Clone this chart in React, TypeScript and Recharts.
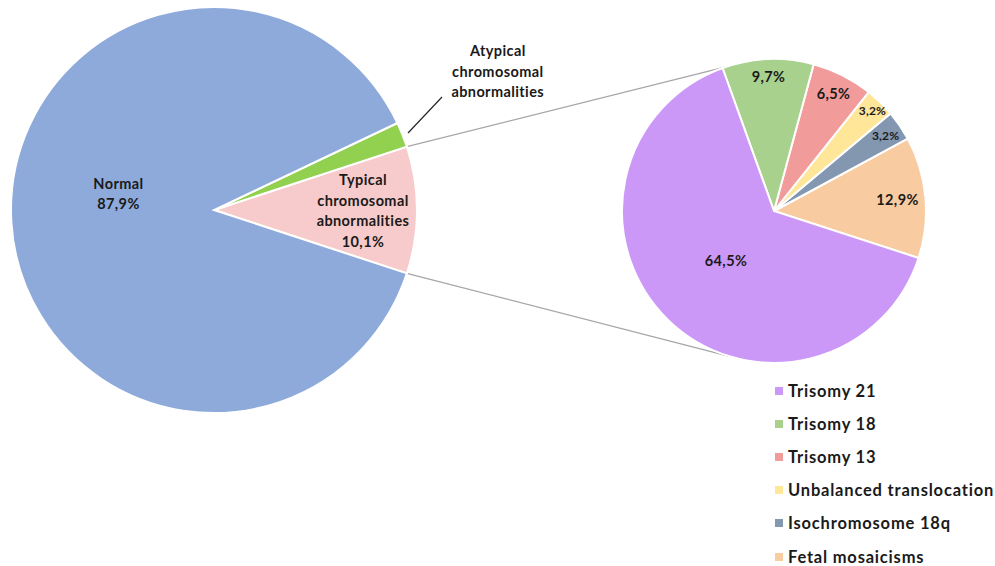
import { PieChart, Pie, Cell, Customized } from "recharts";

// overall split of all cases
const overviewNames = [
  "Typical chromosomal abnormalities",
  "Atypical chromosomal abnormalities",
  "Normal",
];
const overviewValues = [10.1, 2.0, 87.9];
const overviewColors = ["#f7cbcb", "#92d050", "#8eaadb"];

// breakdown of the typical abnormalities
const detailNames = [
  "Fetal mosaicisms",
  "Isochromosome 18q",
  "Unbalanced translocation",
  "Trisomy 13",
  "Trisomy 18",
  "Trisomy 21",
];
const detailValues = [12.9, 3.2, 3.2, 6.5, 9.7, 64.5];
const detailColors = ["#f8cba0", "#8497b0", "#ffe699", "#f29b9b", "#a9d18e", "#cc98f8"];

// legend is listed in reverse of the drawing order
const legendOrder = [5, 4, 3, 2, 1, 0];

const FONT = "Lato, 'Open Sans', sans-serif";
const RAD = Math.PI / 180;

const LEFT = { cx: 214, cy: 210, r: 203 };
const RIGHT = { cx: 774, cy: 211, r: 152 };

const overviewData = overviewNames.map((name, i) => ({ name, value: overviewValues[i] }));
const detailData = detailNames.map((name, i) => ({ name, value: detailValues[i] }));

const fmt = (v: number) => v.toFixed(1).replace(".", ",");

// label placement (distance from centre, optional fixed angle)
const overviewLabelAt: Record<string, { dist: number; angle?: number; lines: (v: number) => string[] }> = {
  Normal: { dist: 97, angle: 170, lines: (v) => ["Normal", fmt(v) + "%"] },
  "Typical chromosomal abnormalities": {
    dist: 149,
    lines: (v) => ["Typical", "chromosomal", "abnormalities", fmt(v) + "%"],
  },
  "Atypical chromosomal abnormalities": {
    dist: 316,
    angle: 26.1,
    lines: () => ["Atypical", "chromosomal", "abnormalities"],
  },
};

const detailLabelDist: Record<string, number> = {
  "Fetal mosaicisms": 124,
  "Isochromosome 18q": 135,
  "Unbalanced translocation": 141,
  "Trisomy 13": 132,
  "Trisomy 18": 135,
  "Trisomy 21": 69,
};

const polar = (cx: number, cy: number, r: number, deg: number) => ({
  x: cx + r * Math.cos(-deg * RAD),
  y: cy + r * Math.sin(-deg * RAD),
});

const OverviewLabel = (props: any) => {
  const { cx, cy, midAngle, name, value } = props;
  const cfg = overviewLabelAt[name];
  const p = polar(cx, cy, cfg.dist, cfg.angle ?? midAngle);
  const lines = cfg.lines(value);
  const lh = 20.5;
  const y0 = p.y - ((lines.length - 1) * lh) / 2;
  return (
    <text
      x={p.x}
      y={y0}
      textAnchor="middle"
      dominantBaseline="central"
      fontFamily={FONT}
      fontWeight={700}
      fontSize={14.5}
      letterSpacing={0.4}
      fill="#1a1a1a"
    >
      {lines.map((l, i) => (
        <tspan key={i} x={p.x} y={y0 + i * lh}>
          {l}
        </tspan>
      ))}
    </text>
  );
};

const DetailLabel = (props: any) => {
  const { cx, cy, midAngle, name, value } = props;
  const p = polar(cx, cy, detailLabelDist[name], midAngle);
  return (
    <text
      x={p.x}
      y={p.y}
      textAnchor="middle"
      dominantBaseline="central"
      fontFamily={FONT}
      fontWeight={700}
      fontSize={value < 5 ? 12 : 14.5}
      letterSpacing={value < 5 ? 0.2 : 0.4}
      fill="#1a1a1a"
    >
      {fmt(value) + "%"}
    </text>
  );
};

// start both pies so the typical slice / detail pie sit on the horizontal
const leftStart = -(overviewValues[0] * 3.6) / 2;
const rightStart = -18;

const Connectors = () => {
  const halfTypical = (overviewValues[0] * 3.6) / 2;
  const a1 = polar(LEFT.cx, LEFT.cy, LEFT.r, halfTypical);
  const a2 = polar(LEFT.cx, LEFT.cy, LEFT.r, -halfTypical);
  const b1 = polar(RIGHT.cx, RIGHT.cy, RIGHT.r, 108.5);
  const b2 = polar(RIGHT.cx, RIGHT.cy, RIGHT.r, -104);
  return (
    <g>
      <line x1={a1.x} y1={a1.y} x2={b1.x} y2={b1.y} stroke="#a6a6a6" strokeWidth={1.3} />
      <line x1={a2.x} y1={a2.y} x2={b2.x} y2={b2.y} stroke="#a6a6a6" strokeWidth={1.3} />
      <line x1={408} y1={133} x2={442} y2={97} stroke="#262626" strokeWidth={1.2} />
    </g>
  );
};

const App = () => {
  return (
    <div style={{ position: "absolute", left: 0, top: 0, width: 995, height: 566, background: "#fff" }}>
      <PieChart width={995} height={566} margin={{ top: 0, right: 0, bottom: 0, left: 0 }}>
        <Customized component={<Connectors />} />
        <Pie
          data={overviewData}
          dataKey="value"
          nameKey="name"
          cx={LEFT.cx}
          cy={LEFT.cy}
          outerRadius={LEFT.r}
          startAngle={leftStart}
          endAngle={leftStart + 360}
          stroke="#ffffff"
          strokeWidth={2}
          label={OverviewLabel}
          labelLine={false}
          isAnimationActive={false}
        >
          {overviewData.map((d, i) => (
            <Cell key={d.name} fill={overviewColors[i]} />
          ))}
        </Pie>
        <Pie
          data={detailData}
          dataKey="value"
          nameKey="name"
          cx={RIGHT.cx}
          cy={RIGHT.cy}
          outerRadius={RIGHT.r}
          startAngle={rightStart}
          endAngle={rightStart + 360}
          stroke="#ffffff"
          strokeWidth={2}
          label={DetailLabel}
          labelLine={false}
          isAnimationActive={false}
        >
          {detailData.map((d, i) => (
            <Cell key={d.name} fill={detailColors[i]} />
          ))}
        </Pie>
      </PieChart>
      <div
        style={{
          position: "absolute",
          left: 775,
          top: 374,
          fontFamily: FONT,
          fontWeight: 700,
          fontSize: 16.5,
          letterSpacing: 0.8,
          color: "#1a1a1a",
        }}
      >
        {legendOrder.map((i) => (
          <div key={detailNames[i]} style={{ display: "flex", alignItems: "center", height: 33.2, whiteSpace: "nowrap" }}>
            <span style={{ display: "inline-block", width: 8, height: 8, background: detailColors[i], marginRight: 5 }} />
            {detailNames[i]}
          </div>
        ))}
      </div>
    </div>
  );
};

export default App;
